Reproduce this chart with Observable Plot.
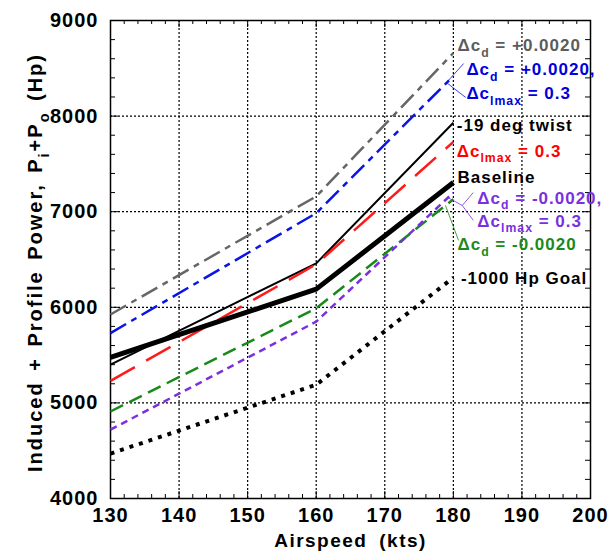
<!DOCTYPE html>
<html><head><meta charset="utf-8">
<script src="https://cdn.jsdelivr.net/npm/d3@7"></script>
<script src="https://cdn.jsdelivr.net/npm/@observablehq/plot@0.6"></script>
<style>
body{margin:0;background:#fff;}
#chart svg{display:block;}
#chart svg text{letter-spacing:1px;}
</style></head><body><div id="chart"></div>
<script>
// ---- data ----
const speedKts = [130, 160, 180];
const baselineHp = [5475, 6190, 7305];
const twistHp = [5400, 6460, 7930];
const clmaxHp = [5230, 6450, 7730];
const cdPlusHp = [5925, 7160, 8660];
const cdPlusClmaxHp = [5730, 6985, 8420];
const cdMinusHp = [4910, 5990, 7130];
const cdMinusClmaxHp = [4720, 5850, 7200];
const goalHp = [4470, 5190, 6310];

const xTickValues = [130, 140, 150, 160, 170, 180, 190, 200];
const yTickValues = [4000, 5000, 6000, 7000, 8000, 9000];

// annotation labels (text, anchor in data units)
const labelText = ["Δc_{d} = +0.0020", "Δc_{d} = +0.0020,", "Δc_{lmax} = 0.3", "-19 deg twist", "Δc_{lmax} = 0.3", "Baseline", "Δc_{d} = -0.0020,", "Δc_{lmax} = 0.3", "Δc_{d} = -0.0020", "-1000 Hp Goal"];
const labelSpeed = [180.6, 181.9, 181.9, 180.5, 180.5, 180.6, 183.5, 183.5, 180.6, 181.1];
const labelHp = [8680, 8425, 8180, 7840, 7575, 7300, 7085, 6845, 6595, 6245];
const labelSeries = ["cdPlus", "cdPlusClmax", "cdPlusClmax", "twist", "clmax", "baseline", "cdMinusClmax", "cdMinusClmax", "cdMinus", "goal"];

// leader lines (data units)
const leaderX1 = [179.0, 179.0, 179.15, 181.3, 181.3, 178.85];
const leaderY1 = [8350, 8350, 7150, 7065, 7065, 7065];
const leaderX2 = [181.5, 181.8, 181.3, 182.9, 182.9, 180.75];
const leaderY2 = [8550, 8195, 7065, 7200, 6910, 6700];
const leaderSeries = ["cdPlusClmax", "cdPlusClmax", "cdMinusClmax", "cdMinusClmax", "cdMinusClmax", "cdMinus"];

// ---- styles ----
const styles = {
  cdPlus:       {line: "#666666", text: "#5c5c5c", width: 2.5, dash: "18,6,6,6", values: cdPlusHp},
  cdPlusClmax:  {line: "#0a14e6", text: "#0000dd", width: 2.5, dash: "18,6,6,6", values: cdPlusClmaxHp},
  twist:        {line: "#000000", text: "#000000", width: 2, dash: null, values: twistHp},
  clmax:        {line: "#ff1a1a", text: "#ff0000", width: 2.5, dash: "28,13", values: clmaxHp},
  baseline:     {line: "#000000", text: "#000000", width: 5, dash: null, values: baselineHp},
  cdMinus:      {line: "#178a17", text: "#1a8a1a", width: 2.5, dash: "14,7", values: cdMinusHp},
  cdMinusClmax: {line: "#7a30e0", text: "#7a30e0", width: 2.5, dash: "7,5", values: cdMinusClmaxHp},
  goal:         {line: "#000000", text: "#000000", width: 4, dash: "4,6", values: goalHp}
};
const drawOrder = ["cdPlus", "cdPlusClmax", "twist", "clmax", "baseline", "cdMinus", "cdMinusClmax", "goal"];

const minorX = d3.range(132, 200, 2).filter(v => v % 10 !== 0);
const minorY = d3.range(4200, 9000, 200).filter(v => v % 1000 !== 0);
const majorX = xTickValues.slice(1, -1);
const majorY = yTickValues.slice(1, -1);

const W = 616, H = 556, mL = 110, mR = 26, mT = 20, mB = 58;
const innerW = W - mL - mR, innerH = H - mT - mB;

const lineMarks = drawOrder.map(k => {
  const s = styles[k];
  const rows = speedKts.map((x, i) => ({x, y: s.values[i]}));
  return Plot.line(rows, {x: "x", y: "y", stroke: s.line, strokeWidth: s.width,
    strokeDasharray: s.dash || undefined, strokeLinecap: "butt", strokeLinejoin: "miter"});
});

const labels = labelText.map((t, i) => ({t, x: labelSpeed[i], y: labelHp[i], c: styles[labelSeries[i]].text}));
const leaders = leaderX1.map((x1, i) => ({x1, y1: leaderY1[i], x2: leaderX2[i], y2: leaderY2[i], c: styles[leaderSeries[i]].line}));

const chart = Plot.plot({
  width: W, height: H,
  marginLeft: mL, marginRight: mR, marginTop: mT, marginBottom: mB,
  style: {fontFamily: "'Liberation Sans', Arial, Helvetica, sans-serif", fontSize: "20px", fontWeight: "bold", background: "white", color: "black", overflow: "visible"},
  x: {domain: [130, 200], ticks: xTickValues, tickSize: 0, tickPadding: 9, tickFormat: d3.format("d"), label: null},
  y: {domain: [4000, 9000], ticks: yTickValues, tickSize: 0, tickPadding: 12, tickFormat: d3.format("d"), label: null},
  marks: [
    Plot.ruleX(majorX, {stroke: "black", strokeWidth: 1.2, strokeDasharray: "2,2"}),
    Plot.ruleY(majorY, {stroke: "black", strokeWidth: 1.2, strokeDasharray: "2,2"}),
    Plot.tickX(minorX, {x: d => d, insetTop: innerH - 4, stroke: "black"}),
    Plot.tickX(minorX, {x: d => d, insetBottom: innerH - 4, stroke: "black"}),
    Plot.tickX(majorX, {x: d => d, insetTop: innerH - 7, stroke: "black"}),
    Plot.tickX(majorX, {x: d => d, insetBottom: innerH - 7, stroke: "black"}),
    Plot.tickY(minorY, {y: d => d, insetRight: innerW - 5, stroke: "black"}),
    Plot.tickY(minorY, {y: d => d, insetLeft: innerW - 5, stroke: "black"}),
    Plot.tickY(majorY, {y: d => d, insetRight: innerW - 8, stroke: "black"}),
    Plot.tickY(majorY, {y: d => d, insetLeft: innerW - 8, stroke: "black"}),
    Plot.frame({stroke: "black", strokeWidth: 1.5}),
    ...lineMarks,
    Plot.link(leaders, {x1: "x1", y1: "y1", x2: "x2", y2: "y2", stroke: "c", strokeWidth: 0.8}),
    Plot.text(labels, {x: "x", y: "y", text: "t", fill: "c", textAnchor: "start", lineAnchor: "bottom", fontSize: 17, fontWeight: "bold"}),
    Plot.text(["Airspeed (kts)"], {frameAnchor: "bottom", dy: 48, lineAnchor: "bottom", textAnchor: "middle", fontSize: 19, fontWeight: "bold"}),
    Plot.text(["Induced + Profile Power, P_{i}+P_{o} (Hp)"], {frameAnchor: "left", dx: -75, dy: 3, rotate: -90, textAnchor: "middle", lineAnchor: "middle", fontSize: 20, fontWeight: "bold"})
  ]
});

document.getElementById("chart").appendChild(chart);

// subscripts rendered as real tspans
d3.select(chart).selectAll("text").each(function () {
  const t = this.textContent;
  if (!t.includes("_{")) return;
  const fs = parseFloat(getComputedStyle(this).fontSize) || 17;
  const shift = fs * 0.33;
  const parts = t.split(/_\{([^}]*)\}/);
  this.textContent = "";
  const sel = d3.select(this);
  parts.forEach((p, i) => {
    const ts = sel.append("tspan").text(p);
    if (i % 2 === 1) ts.attr("font-size", (fs * 0.72) + "px").attr("dy", shift + "px");
    else if (i > 0) ts.attr("dy", (-shift) + "px");
  });
});
d3.select(chart).selectAll("text").filter(function () { return this.textContent.startsWith("Induced"); })
  .style("letter-spacing", "2px").style("word-spacing", "3px");
d3.select(chart).selectAll("text").filter(function () { return this.textContent.startsWith("Airspeed"); })
  .style("letter-spacing", "1.5px").style("word-spacing", "5px");
</script></body></html>
